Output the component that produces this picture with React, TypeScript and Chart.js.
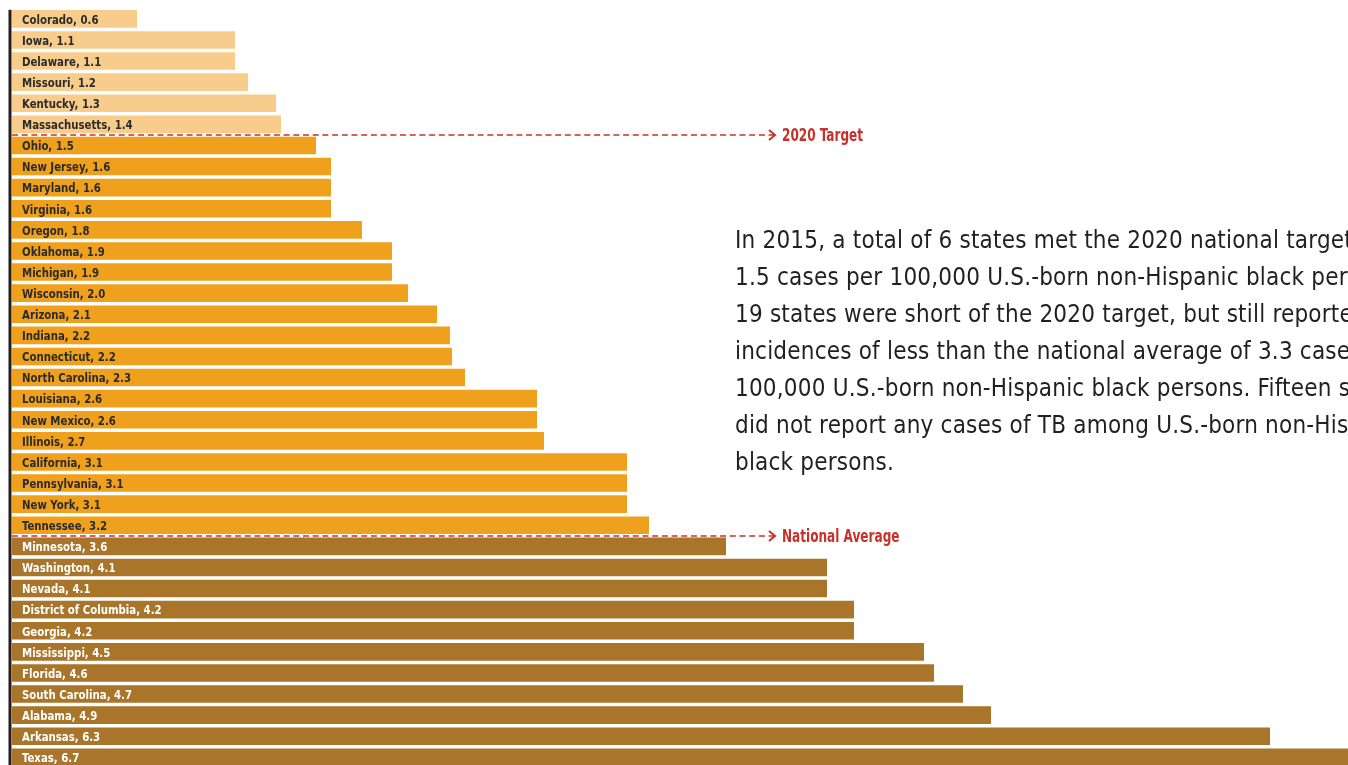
import React, { useEffect, useRef } from "react";
import { Chart, registerables } from "chart.js";

Chart.register(...registerables);

// States in chart order (top to bottom)
const states: string[] = [
  "Colorado", "Iowa", "Delaware", "Missouri", "Kentucky", "Massachusetts",
  "Ohio", "New Jersey", "Maryland", "Virginia", "Oregon", "Oklahoma", "Michigan",
  "Wisconsin", "Arizona", "Indiana", "Connecticut", "North Carolina", "Louisiana",
  "New Mexico", "Illinois", "California", "Pennsylvania", "New York", "Tennessee",
  "Minnesota", "Washington", "Nevada", "District of Columbia", "Georgia",
  "Mississippi", "Florida", "South Carolina", "Alabama", "Arkansas", "Texas",
];

// Rates as printed in the labels (cases per 100,000)
const rates: number[] = [
  0.6, 1.1, 1.1, 1.2, 1.3, 1.4,
  1.5, 1.6, 1.6, 1.6, 1.8, 1.9, 1.9,
  2.0, 2.1, 2.2, 2.2, 2.3, 2.6,
  2.6, 2.7, 3.1, 3.1, 3.1, 3.2,
  3.6, 4.1, 4.1, 4.2, 4.2,
  4.5, 4.6, 4.7, 4.9, 6.3, 6.7,
];

// Bar lengths (unrounded rates)
const barValues: number[] = [
  0.625, 1.115, 1.115, 1.18, 1.32, 1.345,
  1.52, 1.595, 1.595, 1.595, 1.75, 1.9, 1.9,
  1.98, 2.125, 2.19, 2.2, 2.265, 2.625,
  2.625, 2.66, 3.075, 3.075, 3.075, 3.185,
  3.57, 4.075, 4.075, 4.21, 4.21,
  4.56, 4.61, 4.755, 4.895, 6.29, 6.7,
];

// Number of states in each group: met 2020 target, below national average, above
const groupCounts: number[] = [6, 19, 11];
const groupColors: string[] = ["#F8CD8C", "#EFA11D", "#A8752A"];
const groupTextColors: string[] = ["#2b2b2b", "#2b2b2b", "#ffffff"];

const targetRate = 1.5;
const nationalAverage = 3.3;
const annotationLabels: string[] = ["2020 Target", "National Average"];
const annotationEnd = 3.815;

const paragraphLines: string[] = [
  "In 2015, a total of 6 states met the 2020 national target of",
  "1.5 cases per 100,000 U.S.-born non-Hispanic black persons.",
  "19 states were short of the 2020 target, but still reported",
  "incidences of less than the national average of 3.3 cases per",
  "100,000 U.S.-born non-Hispanic black persons. Fifteen states",
  "did not report any cases of TB among U.S.-born non-Hispanic",
  "black persons.",
];

const NARROW =
  "'Liberation Sans Narrow', 'DejaVu Sans Condensed', 'Roboto Condensed', 'Arial Narrow', sans-serif";

function groupOf(i: number): number {
  let acc = 0;
  for (let g = 0; g < groupCounts.length; g++) {
    acc += groupCounts[g];
    if (i < acc) return g;
  }
  return groupCounts.length - 1;
}

// index of last bar below threshold
function boundaryIndex(threshold: number): number {
  let idx = 0;
  for (let i = 0; i < rates.length; i++) if (rates[i] < threshold) idx = i;
  return idx;
}

const W = 1348;
const H = 772;
const RED = "#C8302A";

function squeezedText(ctx: CanvasRenderingContext2D, text: string, x: number, y: number, sx: number) {
  ctx.save();
  ctx.translate(x, y);
  ctx.scale(sx, 1);
  ctx.fillText(text, 0, 0);
  ctx.restore();
}

export default function App() {
  const ref = useRef<HTMLCanvasElement | null>(null);

  useEffect(() => {
    if (!ref.current) return;
    const overlay = {
      id: "overlay",
      afterDatasetsDraw(chart: any) {
        const ctx = chart.ctx as CanvasRenderingContext2D;
        const area = chart.chartArea;
        const meta = chart.getDatasetMeta(0);
        const xs = chart.scales.x;
        ctx.save();
        // axis line
        ctx.fillStyle = "#231f20";
        ctx.fillRect(area.left - 3.5, area.top + 1.5, 3, H);
        // labels
        ctx.font = `bold 13px ${NARROW}`;
        ctx.textBaseline = "alphabetic";
        ctx.textAlign = "left";
        meta.data.forEach((el: any, i: number) => {
          ctx.fillStyle = groupTextColors[groupOf(i)];
          squeezedText(ctx, `${states[i]}, ${rates[i].toFixed(1)}`, area.left + 10, el.y + 4.8, 0.87);
        });
        // annotations
        const thresholds = [targetRate, nationalAverage];
        thresholds.forEach((t, k) => {
          const bi = boundaryIndex(t);
          const y = Math.round((meta.data[bi].y + meta.data[bi + 1].y) / 2);
          const xEnd = xs.getPixelForValue(annotationEnd);
          ctx.strokeStyle = RED;
          ctx.lineWidth = 1.6;
          ctx.setLineDash([6, 3.7]);
          ctx.beginPath();
          ctx.moveTo(area.left, y);
          ctx.lineTo(xEnd - 1, y);
          ctx.stroke();
          ctx.setLineDash([]);
          ctx.lineWidth = 2;
          ctx.beginPath();
          ctx.moveTo(xEnd - 6, y - 5);
          ctx.lineTo(xEnd, y);
          ctx.lineTo(xEnd - 6, y + 5);
          ctx.stroke();
          ctx.fillStyle = RED;
          ctx.font = `bold 17px ${NARROW}`;
          ctx.textBaseline = "alphabetic";
          squeezedText(ctx, annotationLabels[k], xEnd + 7, y + 6.3, 0.79);
        });
        ctx.restore();
      },
    };

    const chart = new Chart(ref.current, {
      type: "bar",
      data: {
        labels: states,
        datasets: [
          {
            data: barValues,
            backgroundColor: barValues.map((_, i) => groupColors[groupOf(i)]),
            borderWidth: 0,
            barPercentage: 0.835,
            categoryPercentage: 1,
          },
        ],
      },
      options: {
        indexAxis: "y",
        responsive: false,
        animation: false,
        devicePixelRatio: 1,
        layout: { padding: { left: 12, top: 8.3, right: 0, bottom: H - 8.3 - 36 * 21.1 } },
        scales: {
          x: { display: false, min: 0, max: 6.68 },
          y: { display: false },
        },
        plugins: { legend: { display: false }, tooltip: { enabled: false } },
      },
      plugins: [overlay],
    });
    return () => chart.destroy();
  }, []);

  return (
    <div
      style={{
        position: "fixed",
        left: 0,
        top: 0,
        width: W,
        height: 765,
        overflow: "hidden",
        background: "#fff",
      }}
    >
      <canvas ref={ref} width={W} height={H} style={{ display: "block", width: W, height: H }} />
      <div
        style={{
          position: "absolute",
          left: 735,
          top: 221.5,
          fontFamily: NARROW,
          fontStretch: "condensed",
          fontSize: 24,
          letterSpacing: "0.2px",
          lineHeight: "37px",
          color: "#231f20",
          whiteSpace: "nowrap",
        }}
      >
        {paragraphLines.map((l, i) => (
          <div key={i}>{l}</div>
        ))}
      </div>
    </div>
  );
}
